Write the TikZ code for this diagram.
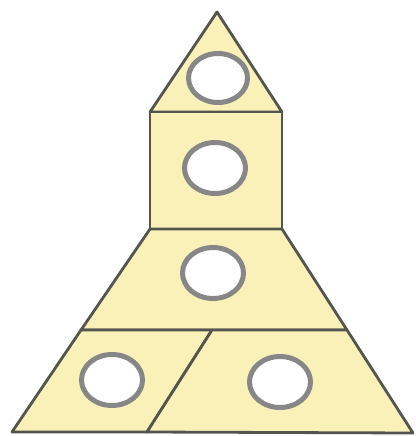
\documentclass[tikz,border=0pt]{standalone}
\definecolor{fillyellow}{RGB}{250,241,185}
\definecolor{edgegray}{RGB}{85,85,80}
\definecolor{ringgray}{RGB}{135,135,135}
\tikzset{
  piece/.style={fill=fillyellow, draw=edgegray, line width=2.8pt, line join=round},
  ring/.style={fill=white, draw=ringgray, line width=5pt}
}
\begin{document}
\begin{tikzpicture}[x=1pt,y=-1pt]
\useasboundingbox (0,0) rectangle (415,436);
\coordinate (apex) at (217,12);
\coordinate (sqTL) at (150,112);
\coordinate (sqTR) at (282,112);
\coordinate (sqBL) at (150,229);
\coordinate (sqBR) at (282,229);
\coordinate (bL) at (12,432);
\coordinate (bR) at (413,433);
\coordinate (mL) at (81,330);
\coordinate (mR) at (347,330);
\coordinate (dT) at (212,330);
\coordinate (dB) at (147,432);
% pieces
\draw[piece] (sqTL) -- (apex) -- (sqTR) -- cycle;
\draw[piece] (sqTL) rectangle (sqBR);
\draw[piece] (sqBL) -- (sqBR) -- (mR) -- (mL) -- cycle;
\draw[piece] (mL) -- (dT) -- (dB) -- (bL) -- cycle;
\draw[piece] (dT) -- (mR) -- (bR) -- (dB) -- cycle;
% rings
\draw[ring] (218,78) ellipse [x radius=29.5, y radius=24.5];
\draw[ring] (215,168) ellipse [x radius=30.5, y radius=25.5];
\draw[ring] (213,273) ellipse [x radius=30.5, y radius=25.5];
\draw[ring] (112,380) ellipse [x radius=30.5, y radius=25.5];
\draw[ring] (280,382) ellipse [x radius=30.5, y radius=25.5];
\end{tikzpicture}
\end{document}
